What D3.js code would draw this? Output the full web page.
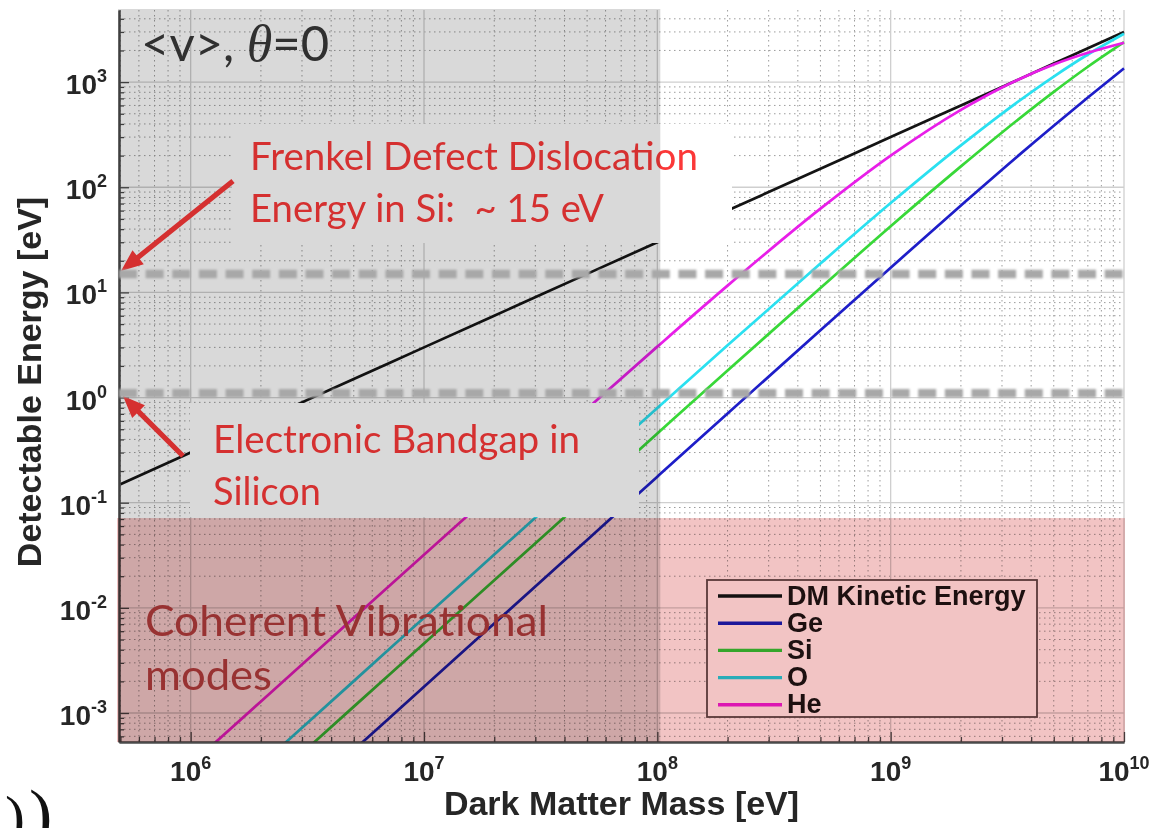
<!DOCTYPE html>
<html>
<head>
<meta charset="utf-8">
<script src="https://cdn.jsdelivr.net/npm/d3@7"></script>
<style>
  body { margin: 0; background: #ffffff; }
  svg { display: block; }
</style>
</head>
<body>
<svg id="chart" width="1159" height="828"></svg>
<script>
// ---- data -------------------------------------------------------------
// dark matter mass samples [eV]
const massEV = [5e5, 1e6, 2e6, 5e6, 1e7, 2e7, 5e7, 1e8, 2e8, 5e8, 1e9, 2e9, 3e9, 5e9, 7e9, 1e10];
// detectable energy [eV] at each mass
const kineticEV = [0.15, 0.3, 0.6, 1.5, 3, 6, 15, 30, 60, 150, 300, 600, 900, 1500, 2100, 3000];
const geEV = [4.4e-6, 1.78e-5, 7.1e-5, 4.44e-4, 1.78e-3, 7.1e-3, 0.0443, 0.177, 0.706, 4.37, 17.2, 67.0, 147, 385, 714, 1350];
const siEV = [1.15e-5, 4.59e-5, 1.84e-4, 1.15e-3, 4.58e-3, 0.0183, 0.114, 0.455, 1.81, 11.0, 42.6, 158, 332, 808, 1400, 2400];
const oEV  = [2.01e-5, 8.05e-5, 3.22e-4, 2.01e-3, 8.04e-3, 0.0321, 0.200, 0.794, 3.14, 18.8, 70.7, 250, 502, 1130, 1830, 2880];
const heEV = [8.04e-5, 3.22e-4, 1.29e-3, 8.03e-3, 0.0320, 0.127, 0.784, 3.05, 11.6, 62.6, 200, 545, 890, 1470, 1900, 2370];

const seriesNames  = ["DM Kinetic Energy", "Ge", "Si", "O", "He"];
const seriesColors = ["#141414", "#1e1ec8", "#38d838", "#2ae0f0", "#e81ee8"];

// thresholds: Frenkel defect energy in Si, Si band gap [eV]
const thresholdEV = [15, 1.1];

const xTickExponents = [6, 7, 8, 9, 10];
const yTickExponents = [-3, -2, -1, 0, 1, 2, 3];
const xDomain = [4.93e5, 1e10];
const yDomain = [5.3e-4, 4.85e3];

const shadeMassMax = 1.03e8;     // grey band: masses below this
const vibrationalMax = 0.0714;   // red band: energies below this

// ---- layout -----------------------------------------------------------
const L = 119, R = 1124, T = 10, B = 742;
const svg = d3.select("#chart");
const x = d3.scaleLog().domain(xDomain).range([L, R]);
const y = d3.scaleLog().domain(yDomain).range([B, T]);

const defs = svg.append("defs");
defs.append("clipPath").attr("id", "plotClip")
  .append("rect").attr("x", L).attr("y", T).attr("width", R - L + 1).attr("height", B - T);
defs.append("filter").attr("id", "soft").attr("x", "-5%").attr("y", "-100%").attr("width", "110%").attr("height", "300%")
  .append("feGaussianBlur").attr("stdDeviation", 1.3);

// minor / major decade positions
function logTicks(domain) {
  const lo = Math.floor(Math.log10(domain[0])), hi = Math.ceil(Math.log10(domain[1]));
  const major = [], minor = [];
  for (let n = lo; n <= hi; n++) {
    for (let k = 1; k <= 9; k++) {
      const v = k * Math.pow(10, n);
      if (v < domain[0] * 0.999 || v > domain[1] * 1.001) continue;
      (k === 1 ? major : minor).push(v);
    }
  }
  return { major, minor };
}
const xt = logTicks(xDomain), yt = logTicks(yDomain);

// ---- grid -------------------------------------------------------------
const grid = svg.append("g").attr("clip-path", "url(#plotClip)");
grid.selectAll(".xmin").data(xt.minor).enter().append("line")
  .attr("x1", d => x(d)).attr("x2", d => x(d)).attr("y1", T).attr("y2", B)
  .attr("stroke", "#9c9c9c").attr("stroke-width", 1).attr("stroke-dasharray", "1.5 3.5");
grid.selectAll(".ymin").data(yt.minor).enter().append("line")
  .attr("y1", d => y(d)).attr("y2", d => y(d)).attr("x1", L).attr("x2", R)
  .attr("stroke", "#9c9c9c").attr("stroke-width", 1).attr("stroke-dasharray", "1.5 3.5");
grid.selectAll(".xmaj").data(xt.major).enter().append("line")
  .attr("x1", d => x(d)).attr("x2", d => x(d)).attr("y1", T).attr("y2", B)
  .attr("stroke", "#cfcfcf").attr("stroke-width", 1.3);
grid.selectAll(".ymaj").data(yt.major).enter().append("line")
  .attr("y1", d => y(d)).attr("y2", d => y(d)).attr("x1", L).attr("x2", R)
  .attr("stroke", "#cfcfcf").attr("stroke-width", 1.3);

// ---- curves -----------------------------------------------------------
const series = [kineticEV, geEV, siEV, oEV, heEV].map((vals, i) => ({
  name: seriesNames[i], color: seriesColors[i],
  points: massEV.map((m, j) => ({ m, e: vals[j] }))
}));
const line = d3.line().x(d => x(d.m)).y(d => y(d.e)).curve(d3.curveMonotoneX);
svg.append("g").attr("clip-path", "url(#plotClip)")
  .selectAll("path").data(series).enter().append("path")
  .attr("d", d => line(d.points)).attr("fill", "none")
  .attr("stroke", d => d.color).attr("stroke-width", 2.7);

// ---- axes -------------------------------------------------------------
const axisColor = "#4a4a4a";
function styleAxis(g) {
  g.selectAll(".domain").attr("stroke", axisColor).attr("stroke-width", 2);
  g.selectAll(".tick line").attr("stroke", axisColor).attr("stroke-width", 1.3);
  g.selectAll(".tick text").remove();
}
svg.append("g").attr("transform", `translate(0,${B})`)
  .call(d3.axisBottom(x).tickValues(xt.major).tickSize(-10).tickSizeOuter(0).tickFormat(""))
  .call(styleAxis);
svg.append("g").attr("transform", `translate(0,${B})`)
  .call(d3.axisBottom(x).tickValues(xt.minor).tickSize(-5).tickSizeOuter(0).tickFormat(""))
  .call(styleAxis);
svg.append("g").attr("transform", `translate(${L},0)`)
  .call(d3.axisLeft(y).tickValues(yt.major).tickSize(-10).tickSizeOuter(0).tickFormat(""))
  .call(styleAxis);
svg.append("g").attr("transform", `translate(${L},0)`)
  .call(d3.axisLeft(y).tickValues(yt.minor).tickSize(-5).tickSizeOuter(0).tickFormat(""))
  .call(styleAxis);

const labelFont = "'Liberation Sans', Arial, Helvetica, sans-serif";
function powerLabel(sel, exp) {
  sel.append("tspan").text("10");
  sel.append("tspan").attr("dy", -12).attr("font-size", 18).text(String(exp));
}
svg.append("g").selectAll("text").data(xTickExponents).enter().append("text")
  .attr("x", d => x(Math.pow(10, d))).attr("y", 781)
  .attr("text-anchor", "middle").attr("font-family", labelFont).attr("font-weight", "bold")
  .attr("font-size", 28).attr("fill", "#262626")
  .each(function (d) { powerLabel(d3.select(this), d); });
svg.append("g").selectAll("text").data(yTickExponents).enter().append("text")
  .attr("x", 107).attr("y", d => y(Math.pow(10, d)) + 12)
  .attr("text-anchor", "end").attr("font-family", labelFont).attr("font-weight", "bold")
  .attr("font-size", 28).attr("fill", "#262626")
  .each(function (d) { powerLabel(d3.select(this), d); });

svg.append("text").attr("x", (L + R) / 2).attr("y", 815).attr("text-anchor", "middle")
  .attr("font-family", labelFont).attr("font-weight", "bold").attr("font-size", 34)
  .attr("fill", "#262626").text("Dark Matter Mass [eV]");
svg.append("text").attr("transform", `translate(41,${(T + B) / 2 + 6}) rotate(-90)`).attr("text-anchor", "middle")
  .attr("font-family", labelFont).attr("font-weight", "bold").attr("font-size", 34)
  .attr("fill", "#262626").text("Detectable Energy [eV]");

// ---- legend -----------------------------------------------------------
const lg = svg.append("g").attr("transform", "translate(707,580)");
lg.append("rect").attr("width", 330).attr("height", 137)
  .attr("fill", "#ffffff").attr("stroke", "#5e4a4a").attr("stroke-width", 1.8);
const rows = lg.selectAll("g").data(series).enter().append("g")
  .attr("transform", (d, i) => `translate(0,${16 + i * 27.2})`);
rows.append("line").attr("x1", 11).attr("x2", 75).attr("y1", 0).attr("y2", 0)
  .attr("stroke", d => d.color).attr("stroke-width", 3.4);
rows.append("text").attr("x", 80).attr("y", 8.5).attr("font-family", labelFont)
  .attr("font-weight", "bold").attr("font-size", 27).attr("fill", "#1e1414").text(d => d.name);

// ---- annotation boxes -------------------------------------------------
const noteFont = "Lato, 'Open Sans', sans-serif";
const red = "#fb3838";
svg.append("rect").attr("x", 232).attr("y", 124).attr("width", 500).attr("height", 119).attr("fill", "#ffffff");
svg.append("rect").attr("x", 190).attr("y", 403).attr("width", 449).attr("height", 114).attr("fill", "#ffffff");

function note(txt, x0, yb, len, size, color) {
  return svg.append("text").attr("x", x0).attr("y", yb).attr("font-family", noteFont)
    .attr("font-size", size).attr("fill", color).style("white-space", "pre")
    .attr("textLength", len).attr("lengthAdjust", "spacingAndGlyphs").text(txt);
}
note("Frenkel Defect Dislocation", 250, 170, 448, 38, red);
note("Energy in Si:  ~ 15 eV", 250, 222, 354, 38, red);
note("Electronic Bandgap in", 213, 453, 367, 38, red);
note("Silicon", 213, 505, 108, 38, red);

function arrow(x1, y1, x2, y2) {
  const a = Math.atan2(y2 - y1, x2 - x1), head = 22, half = 9, w = 2.6;
  const bx = x2 - head * Math.cos(a), by = y2 - head * Math.sin(a);
  const nx = -Math.sin(a), ny = Math.cos(a);
  const pts = [
    [x1 + nx * w, y1 + ny * w], [bx + nx * w, by + ny * w], [bx + nx * half, by + ny * half],
    [x2, y2], [bx - nx * half, by - ny * half], [bx - nx * w, by - ny * w], [x1 - nx * w, y1 - ny * w]
  ];
  svg.append("polygon").attr("points", pts.map(p => p.join(",")).join(" ")).attr("fill", red);
}
arrow(233, 181, 121, 271);
arrow(183, 456, 123, 396);

// ---- shaded regions ---------------------------------------------------
svg.append("rect").attr("x", L - 1).attr("y", T - 1)
  .attr("width", x(shadeMassMax) - L + 1).attr("height", B - T + 1)
  .attr("fill", "#d9d9d9").style("mix-blend-mode", "multiply");
svg.append("rect").attr("x", L - 2).attr("y", y(vibrationalMax))
  .attr("width", R - L + 3).attr("height", B - y(vibrationalMax))
  .attr("fill", "#f2c4c4").style("mix-blend-mode", "multiply");

// ---- threshold lines --------------------------------------------------
svg.append("g").attr("filter", "url(#soft)")
  .selectAll("line").data(thresholdEV).enter().append("line")
  .attr("x1", L).attr("x2", R).attr("y1", d => y(d)).attr("y2", d => y(d))
  .attr("stroke", "#a8a8a8").attr("stroke-width", 8.5).attr("stroke-dasharray", "18 8.64");

// ---- overlay text -----------------------------------------------------
note("Coherent Vibrational", 145, 636, 403, 42, "#983232");
note("modes", 145, 690, 127, 42, "#983232");

const vt = svg.append("text").attr("x", 141).attr("y", 61).attr("font-family", noteFont)
  .attr("font-size", 49).attr("fill", "#303030").style("white-space", "pre");
vt.append("tspan").text("<v>, ");
vt.append("tspan").attr("font-family", "'Liberation Serif', 'DejaVu Serif', serif")
  .attr("font-style", "italic").attr("font-size", 52).text("\u03B8");
vt.append("tspan").text("=0");

// closing brackets of an expression cut by the lower-left edge
svg.append("g").selectAll("text").data([[-16, 54], [5, 60], [29, 70]]).enter().append("text")
  .attr("x", d => d[0]).attr("y", d => 830 + d[1] * 0.12)
  .attr("font-family", "'Liberation Serif', serif").attr("font-size", d => d[1])
  .attr("fill", "#111").text(")");
</script>
</body>
</html>
